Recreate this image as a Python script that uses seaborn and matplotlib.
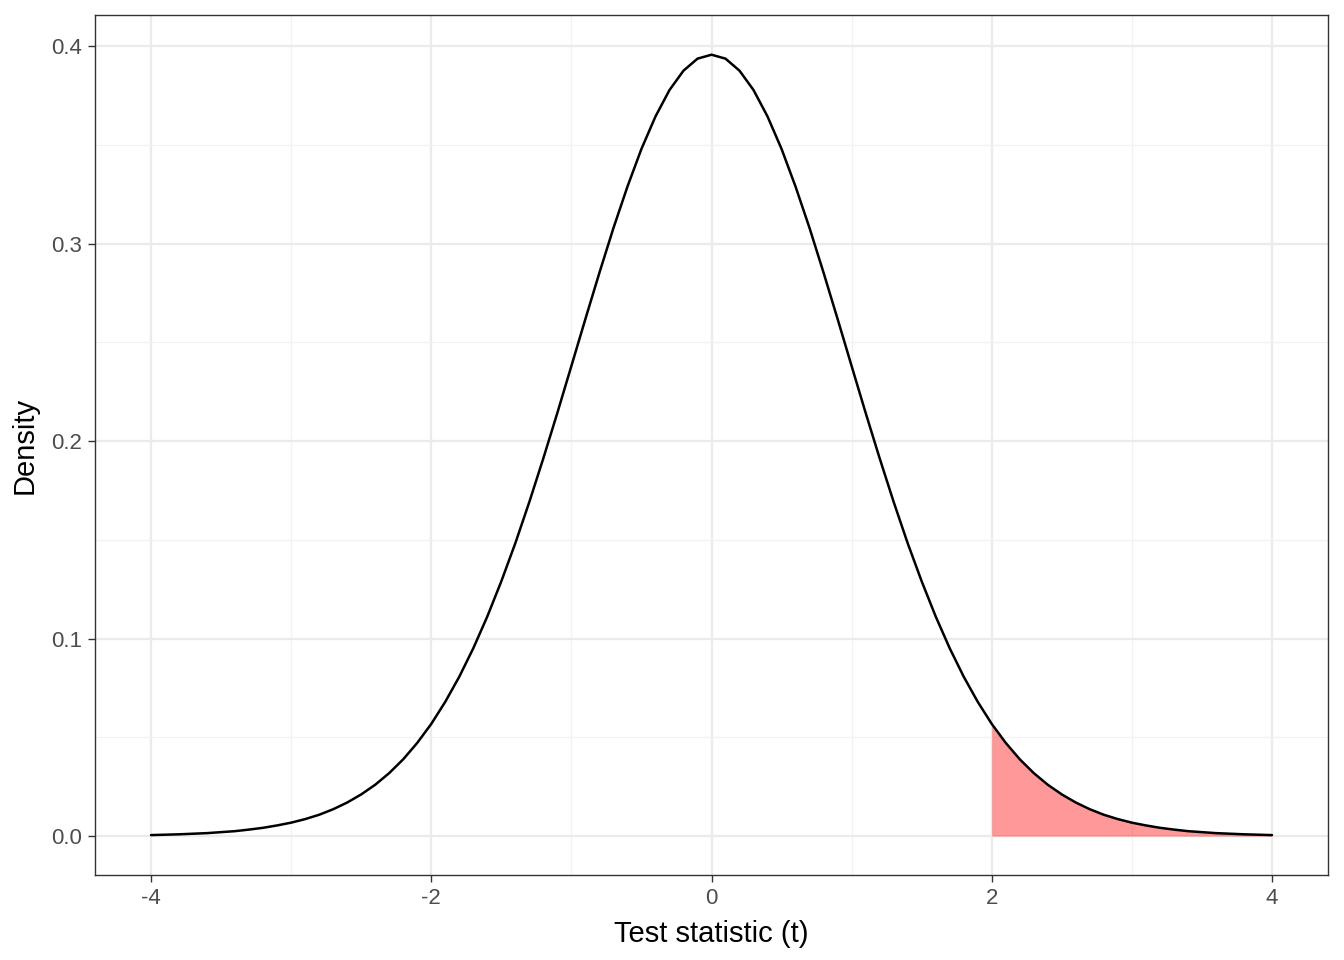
import matplotlib
matplotlib.use("Agg")
import matplotlib.pyplot as plt
import seaborn as sns
import pandas as pd
import numpy as np

# t values and density
t_vals = [-4.0, -3.9, -3.8, -3.7, -3.6, -3.5, -3.4, -3.3, -3.2, -3.1,
          -3.0, -2.9, -2.8, -2.7, -2.6, -2.5, -2.4, -2.3, -2.2, -2.1,
          -2.0, -1.9, -1.8, -1.7, -1.6, -1.5, -1.4, -1.3, -1.2, -1.1,
          -1.0, -0.9, -0.8, -0.7, -0.6, -0.5, -0.4, -0.3, -0.2, -0.1,
          0.0, 0.1, 0.2, 0.3, 0.4, 0.5, 0.6, 0.7, 0.8, 0.9,
          1.0, 1.1, 1.2, 1.3, 1.4, 1.5, 1.6, 1.7, 1.8, 1.9,
          2.0, 2.1, 2.2, 2.3, 2.4, 2.5, 2.6, 2.7, 2.8, 2.9,
          3.0, 3.1, 3.2, 3.3, 3.4, 3.5, 3.6, 3.7, 3.8, 3.9, 4.0]
density = [0.0005, 0.0007, 0.0009, 0.0012, 0.0015, 0.0020, 0.0025, 0.0033, 0.0042, 0.0054,
           0.0068, 0.0086, 0.0108, 0.0136, 0.0170, 0.0211, 0.0260, 0.0319, 0.0389, 0.0472,
           0.0568, 0.0680, 0.0807, 0.0951, 0.1112, 0.1290, 0.1483, 0.1692, 0.1913, 0.2143,
           0.2380, 0.2618, 0.2852, 0.3078, 0.3288, 0.3479, 0.3643, 0.3777, 0.3875, 0.3936,
           0.3956, 0.3936, 0.3875, 0.3777, 0.3643, 0.3479, 0.3288, 0.3078, 0.2852, 0.2618,
           0.2380, 0.2143, 0.1913, 0.1692, 0.1483, 0.1290, 0.1112, 0.0951, 0.0807, 0.0680,
           0.0568, 0.0472, 0.0389, 0.0319, 0.0260, 0.0211, 0.0170, 0.0136, 0.0108, 0.0086,
           0.0068, 0.0054, 0.0042, 0.0033, 0.0025, 0.0020, 0.0015, 0.0012, 0.0009, 0.0007, 0.0005]
t_crit = 2.0

df = pd.DataFrame({"t": t_vals, "density": density})

sns.set_style("white")
plt.rcParams["font.family"] = ["Liberation Sans", "DejaVu Sans"]

fig = plt.figure(figsize=(13.44, 9.6), dpi=100)
ax = fig.add_axes([95 / 1344, 1 - 875 / 960, (1328 - 95) / 1344, (875 - 15) / 960])

tail = df[df["t"] >= t_crit]
ax.fill_between(tail["t"], 0, tail["density"], color="red", alpha=0.4, linewidth=0, zorder=2)
sns.lineplot(data=df, x="t", y="density", color="black", linewidth=1.8, ax=ax, zorder=3)

ax.set_xlim(-4.4, 4.4)
ax.set_ylim(-0.0197, 0.4157)
ax.set_xticks([-4, -2, 0, 2, 4])
ax.set_xticklabels(["-4", "-2", "0", "2", "4"])
ax.set_yticks([0.0, 0.1, 0.2, 0.3, 0.4])
ax.set_yticklabels(["0.0", "0.1", "0.2", "0.3", "0.4"])
ax.set_xticks([-3, -1, 1, 3], minor=True)
ax.set_yticks(np.arange(0.05, 0.40, 0.1), minor=True)
ax.grid(which="major", color="#EBEBEB", linewidth=1.6, zorder=0)
ax.grid(which="minor", color="#F2F2F2", linewidth=0.9, zorder=0)
ax.set_axisbelow(True)
ax.tick_params(which="major", length=5, width=1, color="#333333", labelsize=16,
               labelcolor="#4D4D4D", bottom=True, left=True, pad=4)
ax.tick_params(which="minor", length=0)
for s in ax.spines.values():
    s.set_color("#333333")
    s.set_linewidth(1.0)

ax.set_xlabel("Test statistic (t)", fontsize=21, color="black", labelpad=8)
ax.set_ylabel("Density", fontsize=21, color="black", labelpad=9)

fig.savefig("out.png", dpi=100)
